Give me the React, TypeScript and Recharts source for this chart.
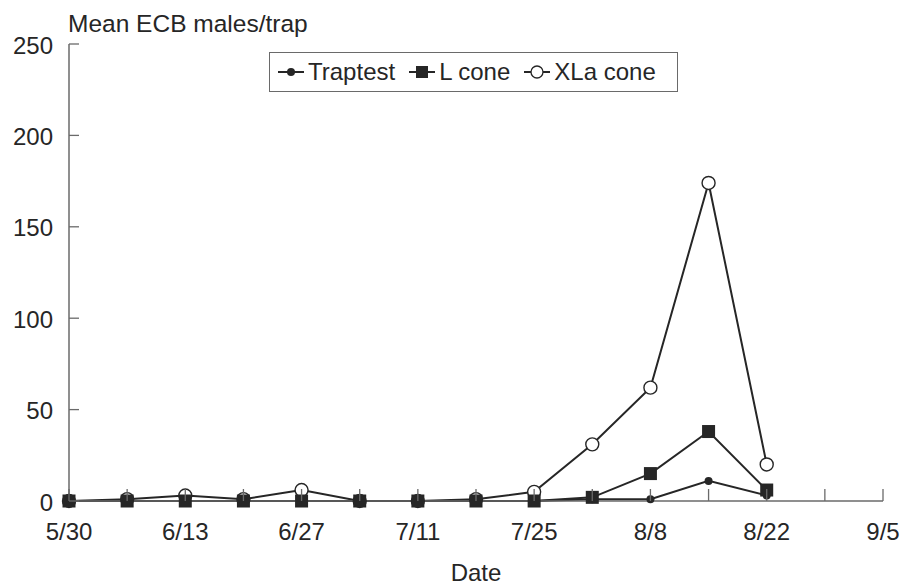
import React from 'react';
import { Label, Line, LineChart, XAxis, YAxis } from 'recharts';

// weekly trap checks
const dates = ['5/30', '6/6', '6/13', '6/20', '6/27', '7/4', '7/11', '7/18', '7/25', '8/1', '8/8', '8/15', '8/22'];
const traptest = [0, 0, 0, 0, 0, 0, 0, 0, 0, 1, 1, 11, 3];
const lCone = [0, 0, 0, 0, 0, 0, 0, 0, 0, 2, 15, 38, 6];
const xlaCone = [0, 1, 3, 1, 6, 0, 0, 1, 5, 31, 62, 174, 20];

// x axis runs 5/30 .. 9/5 in weeks, labels every two weeks
const weekLabels = ['5/30', '', '6/13', '', '6/27', '', '7/11', '', '7/25', '', '8/8', '', '8/22', '', '9/5'];
const yTicks = [0, 50, 100, 150, 200, 250];

const data = dates.map((d, i) => ({
  week: i,
  date: d,
  traptest: traptest[i],
  lCone: lCone[i],
  xlaCone: xlaCone[i],
}));

const INK = '#262626';
const AXIS = '#6a6a6a';
const FONT = '"Liberation Sans", Arial, Helvetica, sans-serif';

const XTick = (props: any) => {
  const { x, y, payload } = props;
  const label = weekLabels[payload.value] ?? '';
  return (
    <g>
      <line x1={x} x2={x} y1={y} y2={y - 12} stroke={AXIS} strokeWidth={1.3} />
      {label && (
        <text x={x} y={y + 30} textAnchor="middle" dominantBaseline="central" fontSize={24} fill={INK} fontFamily={FONT}>
          {label}
        </text>
      )}
    </g>
  );
};

const YTick = (props: any) => {
  const { x, y, payload } = props;
  return (
    <g>
      <line x1={x} x2={x + 10} y1={y} y2={y} stroke={AXIS} strokeWidth={1.3} />
      <text x={x - 16} y={y + 1} textAnchor="end" dominantBaseline="central" fontSize={24} fill={INK} fontFamily={FONT}>
        {payload.value}
      </text>
    </g>
  );
};

const dotSmall = (p: any) => <circle key={`t${p.index}`} cx={p.cx} cy={p.cy} r={4} fill={INK} />;
const dotSquare = (p: any) => <rect key={`l${p.index}`} x={p.cx - 6.5} y={p.cy - 6.5} width={13} height={13} fill={INK} />;
const dotOpen = (p: any) => (
  <circle key={`x${p.index}`} cx={p.cx} cy={p.cy} r={6.5} fill="#fff" stroke={INK} strokeWidth={1.4} />
);

const LegendIcon = ({ kind }: { kind: string }) => (
  <svg width={26} height={16} style={{ marginRight: 4 }}>
    <line x1={0} x2={26} y1={8} y2={8} stroke={INK} strokeWidth={2} />
    {kind === 'dot' && <circle cx={13} cy={8} r={4} fill={INK} />}
    {kind === 'square' && <rect x={7} y={2} width={12} height={12} fill={INK} />}
    {kind === 'open' && <circle cx={13} cy={8} r={6} fill="#fff" stroke={INK} strokeWidth={1.3} />}
  </svg>
);

const legendItems = [
  { name: 'Traptest', kind: 'dot' },
  { name: 'L cone', kind: 'square' },
  { name: 'XLa cone', kind: 'open' },
];

const LegendBox = () => (
  <div
    style={{
      position: 'absolute',
      left: 269,
      top: 52,
      boxSizing: 'border-box',
      width: 409,
      height: 40,
      border: `1.5px solid ${AXIS}`,
      background: '#fff',
      display: 'flex',
      alignItems: 'center',
      paddingLeft: 8,
      fontFamily: FONT,
      fontSize: 24,
      color: INK,
    }}
  >
    {legendItems.map((it) => (
      <div key={it.name} style={{ display: 'flex', alignItems: 'center', marginRight: 14 }}>
        <LegendIcon kind={it.kind} />
        <span>{it.name}</span>
      </div>
    ))}
  </div>
);

export default function App() {
  return (
    <div style={{ position: 'absolute', left: 0, top: 0, width: 905, height: 588, background: '#fff' }}>
      <LineChart width={905} height={588} data={data} margin={{ top: 44, right: 22, bottom: 0, left: 0 }}>
        <XAxis
          dataKey="week"
          type="number"
          domain={[0, 14]}
          ticks={weekLabels.map((_, i) => i)}
          interval={0}
          height={87}
          tickSize={0}
          tickMargin={0}
          tickLine={false}
          tick={XTick}
          axisLine={{ stroke: AXIS, strokeWidth: 1.5 }}
        >
          <Label
            content={(p: any) => (
              <text
                x={p.viewBox.x + p.viewBox.width / 2}
                y={p.viewBox.y + 71}
                textAnchor="middle"
                dominantBaseline="central"
                fontSize={24}
                fill={INK}
                fontFamily={FONT}
              >
                Date
              </text>
            )}
          />
        </XAxis>
        <YAxis
          domain={[0, 250]}
          ticks={yTicks}
          width={69}
          tickSize={0}
          tickMargin={0}
          tickLine={false}
          tick={YTick}
          axisLine={{ stroke: AXIS, strokeWidth: 1.5 }}
        >
          <Label
            content={(p: any) => (
              <text x={p.viewBox.x + p.viewBox.width - 1} y={p.viewBox.y - 12} fontSize={24.5} fill={INK} fontFamily={FONT}>
                Mean ECB males/trap
              </text>
            )}
          />
        </YAxis>
        <Line dataKey="xlaCone" name="XLa cone" stroke={INK} strokeWidth={2} dot={dotOpen} isAnimationActive={false} />
        <Line dataKey="traptest" name="Traptest" stroke={INK} strokeWidth={2} dot={dotSmall} isAnimationActive={false} />
        <Line dataKey="lCone" name="L cone" stroke={INK} strokeWidth={2} dot={dotSquare} isAnimationActive={false} />
      </LineChart>
      <LegendBox />
    </div>
  );
}
